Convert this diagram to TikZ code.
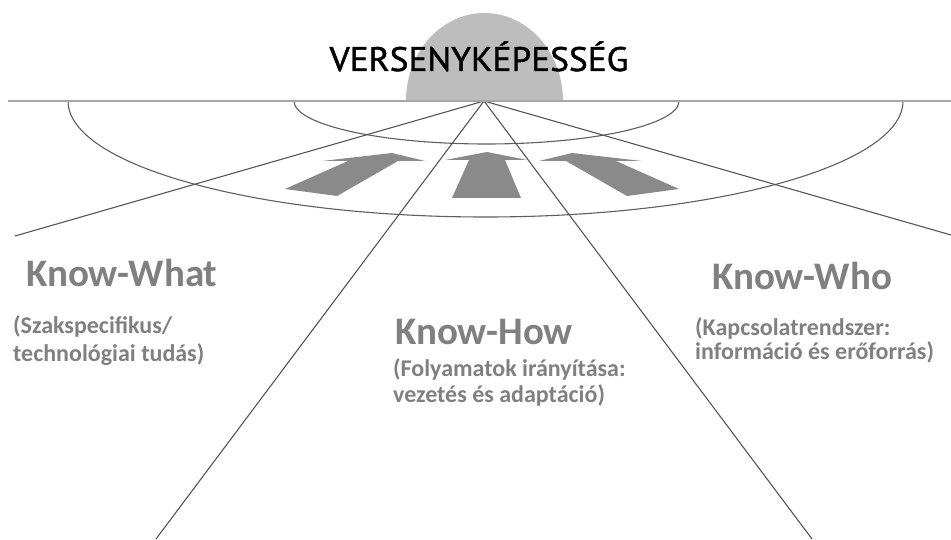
\documentclass[tikz,border=0pt]{standalone}
\usepackage{fontspec}
\newfontfamily\lblfont{Carlito}
\newfontfamily\titlefont{PT Sans}[FakeBold=1.3]
\definecolor{domegray}{HTML}{BDBDBD}
\definecolor{hlinegray}{HTML}{A6A6A6}
\definecolor{arrowgray}{HTML}{8A8A8A}
\definecolor{labelgray}{HTML}{808080}
\definecolor{raygray}{HTML}{555555}
\definecolor{arcgray}{HTML}{5E5E5E}
\begin{document}
\begin{tikzpicture}[x=1pt,y=1pt,
  hline/.style={draw=hlinegray, line width=2.6pt},
  rayline/.style={draw=raygray, line width=1.1pt},
  arcline/.style={draw=arcgray, line width=1.1pt},
  blockarrow/.style={fill=arrowgray, draw=none},
  titletext/.style={font=\titlefont\fontsize{34}{36}\selectfont, text=black, inner sep=0, anchor=base},
  heading/.style={font=\lblfont\bfseries\fontsize{39}{41}\selectfont, text=labelgray, inner sep=0, anchor=base west},
  subtext/.style={font=\lblfont\bfseries\fontsize{24}{27}\selectfont, text=labelgray, inner sep=0, anchor=base west}]
\useasboundingbox (0,0) rectangle (951,539);
% dome
\fill[domegray] (406,438) arc[start angle=180,end angle=0,x radius=78.5,y radius=88] -- cycle;
% title
\node[titletext] (title) at (479,468) {\scalebox{1.04}[1]{VERSENYKÉPESSÉG}};
% block arrows
\fill[blockarrow] (392,386) -- (425,378) -- (398,378) -- (337,343) -- (285,350) -- (348,378) -- (322,378) -- cycle;
\fill[blockarrow] (487,387) -- (527,379) -- (505,379) -- (521,341) -- (452,341) -- (469,379) -- (445,379) -- cycle;
\fill[blockarrow] (572,386) -- (539,378) -- (566,378) -- (627,343) -- (679,350) -- (616,378) -- (642,378) -- cycle;
% arcs
\draw[arcline] (294,438) arc[start angle=180,end angle=360,x radius=192.5,y radius=43];
\draw[arcline] (68,438) arc[start angle=180,end angle=360,x radius=417.5,y radius=116];
% rays
\coordinate (apex) at (484,438);
\coordinate (endL) at (15,303);
\coordinate (endLL) at (156,0);
\coordinate (endRR) at (812,0);
\coordinate (endR) at (951,304);
\draw[rayline] (apex) -- (endL);
\draw[rayline] (apex) -- (endLL);
\draw[rayline] (apex) -- (endRR);
\draw[rayline] (apex) -- (endR);
% horizon
\coordinate (hL) at (8,438);
\coordinate (hR) at (951,438);
\draw[hline] (hL) -- (hR);
% labels
\node[heading] (what) at (26,252) {Know-What};
\node[subtext] (what1) at (13,205) {(Szakspecifikus/};
\node[subtext] (what2) at (13,178) {technológiai tudás)};
\node[heading] (how) at (395,194) {Know-How};
\node[subtext] (how1) at (393,163) {(Folyamatok irányítása:};
\node[subtext] (how2) at (393,137) {vezetés és adaptáció)};
\node[heading] (who) at (712,249) {Know-Who};
\node[subtext] (who1) at (695,204) {(Kapcsolatrendszer:};
\node[subtext] (who2) at (695,179) {információ és erőforrás)};
\end{tikzpicture}
\end{document}
